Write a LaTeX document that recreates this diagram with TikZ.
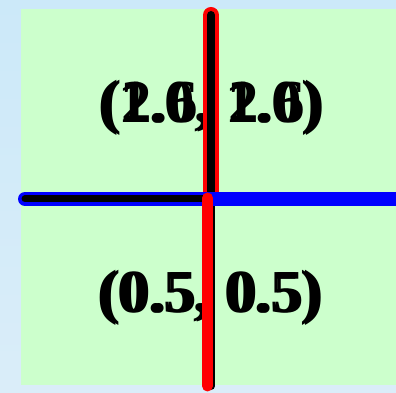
\documentclass[tikz,border=0pt]{standalone}
\usepackage{fontspec}
\setmainfont{Liberation Serif}
\begin{document}
\begin{tikzpicture}[x=1pt,y=1pt,
  lbl/.style={font=\bfseries\fontsize{61}{63}\selectfont, inner sep=0pt, anchor=base}]
\useasboundingbox (0,0) rectangle (396,393);
\shade[top color={rgb,255:red,204;green,233;blue,249}, bottom color={rgb,255:red,218;green,237;blue,249}] (0,0) rectangle (396,393);
\fill[fill={rgb,255:red,204;green,255;blue,204}] (21,8) rectangle (396,384);
% texts
\node[lbl] (t1) at (210,270) {(1.0, 1.0)};
\node[lbl] (t2) at (213,270) {(2.6, 2.6)};
\node[lbl] (b1) at (209,80) {(0.5, 0.5)};
\node[lbl] (b2) at (212,80) {(0.5, 0.5)};
% coordinates
\coordinate (vt) at (211,393-15);
\coordinate (vc) at (211,393-198);
\coordinate (vb) at (211,393-386);
\coordinate (rt) at (207.5,393-198);
\coordinate (rb) at (207.5,393-386);
\coordinate (hl) at (25,393-199);
\coordinate (hr) at (402,393-199);
\coordinate (hm) at (205,393-199);
% upper red and black vertical
\draw[red, line width=16pt, line cap=round] (vt) -- (vc);
\draw[black, line width=8pt, line cap=round] (vt) -- (vb);
% blue horizontal
\draw[blue, line width=14pt, line cap=round] (hl) -- (hr);
% black horizontal
\draw[black, line width=7pt, line cap=round] (hl) -- (hm);
% lower red
\draw[red, line width=11pt, line cap=round] (rt) -- (rb);
\end{tikzpicture}
\end{document}
